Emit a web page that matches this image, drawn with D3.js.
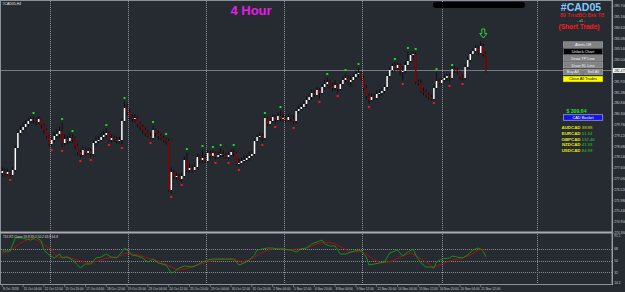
<!DOCTYPE html>
<html><head><meta charset="utf-8">
<script src="https://cdn.jsdelivr.net/npm/d3@7"></script>
<style>html,body{margin:0;padding:0;background:#262a31;overflow:hidden}svg{display:block}</style>
</head><body><svg id="c" width="625" height="292"></svg>
<script>
// ---------- DATA ----------
const symbolTitle = "#CAD05,H4";
const timeframeTitle = "4 Hour";
const opens = [277.35,277.45,277.30,277.40,277.25,277.50,278.60,279.35,279.50,279.65,
279.80,279.95,280.05,280.00,279.90,280.05,279.75,279.50,279.20,278.80,
279.00,279.20,279.30,279.45,278.85,279.05,278.95,279.10,279.05,278.70,
278.40,278.25,278.50,278.35,278.45,278.30,278.85,278.95,279.00,279.15,
279.25,279.35,279.00,279.10,279.05,278.95,279.00,279.95,280.60,280.40,
280.15,280.05,280.10,279.80,279.65,279.50,279.35,279.20,279.10,279.50,
279.35,279.20,279.10,279.00,278.95,276.50,277.40,277.15,277.20,277.05,
277.20,278.00,277.50,277.60,277.50,277.65,278.15,278.00,278.10,277.95,
278.35,278.20,278.35,278.15,278.25,278.30,278.25,278.15,278.25,278.40,
278.35,277.80,277.85,277.95,278.00,278.10,278.20,278.30,278.95,279.15,
279.20,279.10,280.10,279.80,279.95,280.15,280.00,280.20,280.05,280.10,
280.00,280.15,280.05,279.95,280.45,280.55,280.65,280.80,281.00,281.15,
281.35,281.25,281.50,281.35,281.65,281.80,281.90,281.70,281.60,281.75,
281.55,281.80,282.00,282.10,281.90,282.00,282.15,282.30,282.35,282.10,
281.60,281.20,281.00,281.15,281.10,281.30,281.35,281.45,281.65,282.20,
282.50,282.70,282.60,282.75,282.40,282.45,282.75,282.95,283.25,283.30,
281.90,281.85,281.45,281.40,281.25,281.15,281.05,281.60,281.95,281.85,
282.00,282.10,282.20,282.10,282.55,282.50,282.40,282.15,282.10,282.65,
283.00,283.30,283.45,283.60,283.35,283.70,283.30];
const closes = [277.45,277.30,277.40,277.25,277.50,278.60,279.35,279.50,279.65,279.80,
279.95,280.05,280.00,279.90,280.05,279.75,279.50,279.20,278.80,279.00,
279.20,279.30,279.45,278.85,279.05,278.95,279.10,279.05,278.70,278.40,
278.25,278.50,278.35,278.45,278.30,278.85,278.95,279.00,279.15,279.25,
279.35,279.00,279.10,279.05,278.95,279.00,279.95,280.60,280.40,280.15,
280.05,280.10,279.80,279.65,279.50,279.35,279.20,279.10,279.50,279.35,
279.20,279.10,279.00,278.95,276.50,277.40,277.15,277.20,277.05,277.20,
278.00,277.50,277.60,277.50,277.65,278.15,278.00,278.10,277.95,278.35,
278.20,278.35,278.15,278.25,278.30,278.25,278.15,278.25,278.40,278.35,
277.80,277.85,277.95,278.00,278.10,278.20,278.30,278.95,279.15,279.20,
279.10,280.10,279.80,279.95,280.15,280.00,280.20,280.05,280.10,280.00,
280.15,280.05,279.95,280.45,280.55,280.65,280.80,281.00,281.15,281.35,
281.25,281.50,281.35,281.65,281.80,281.90,281.70,281.60,281.75,281.55,
281.80,282.00,282.10,281.90,282.00,282.15,282.30,282.35,282.10,281.60,
281.20,281.00,281.15,281.10,281.30,281.35,281.45,281.65,282.20,282.50,
282.70,282.60,282.75,282.40,282.45,282.75,282.95,283.25,283.30,281.90,
281.85,281.45,281.40,281.25,281.15,281.05,281.60,281.95,281.85,282.00,
282.10,282.20,282.10,282.55,282.50,282.40,282.15,282.10,282.65,283.00,
283.30,283.45,283.60,283.35,283.70,283.30,282.475];
const highs = [277.60,277.55,277.55,277.45,277.65,278.70,279.50,279.70,279.85,279.95,
280.10,280.15,280.15,280.10,280.15,280.05,279.80,279.55,279.25,279.10,
279.35,279.50,279.65,279.85,279.25,279.20,279.30,279.25,279.15,278.80,
278.50,278.65,278.60,278.60,278.55,278.95,279.15,279.20,279.35,279.45,
279.55,279.40,279.25,279.20,279.15,279.15,280.05,280.90,280.80,280.50,
280.25,280.25,280.15,279.90,279.75,279.60,279.50,279.35,279.70,279.55,
279.45,279.30,279.20,279.10,279.05,277.60,277.50,277.35,277.30,277.35,
278.15,278.35,277.80,277.75,277.80,278.30,278.25,278.50,278.25,278.45,
278.45,278.45,278.40,278.40,278.55,278.45,278.35,278.40,278.50,278.55,
278.40,278.05,278.10,278.20,278.25,278.40,278.45,279.05,279.25,279.35,
279.30,280.15,280.15,280.05,280.25,280.20,280.35,280.45,280.30,280.20,
280.30,280.25,280.20,280.55,280.70,280.80,280.95,281.15,281.30,281.50,
281.45,281.65,281.60,281.80,282.00,282.10,282.00,281.85,281.95,281.80,
281.95,282.15,282.30,282.20,282.15,282.30,282.45,282.60,282.40,282.20,
281.70,281.30,281.30,281.30,281.45,281.50,281.60,281.75,282.30,282.60,
282.80,282.85,282.85,282.80,282.65,282.90,283.40,283.30,283.40,283.35,
282.00,282.00,281.60,281.50,281.35,281.25,281.70,282.35,282.05,282.10,
282.25,282.30,282.30,282.55,282.65,282.60,282.45,282.25,282.75,283.15,
283.40,283.55,283.70,283.70,283.90,283.80,283.40];
const lows = [277.20,277.20,277.25,277.20,277.25,277.45,278.55,279.25,279.45,279.55,
279.70,279.85,279.85,279.75,279.80,279.60,279.35,279.10,278.70,278.70,
278.90,279.10,279.15,278.65,278.75,278.80,278.85,278.90,278.55,278.25,
278.15,278.20,278.25,278.30,278.20,278.25,278.75,278.85,278.95,279.05,
279.10,278.95,278.90,278.95,278.85,278.85,278.80,279.90,280.25,280.00,
279.90,279.90,279.65,279.50,279.35,279.20,279.15,279.05,279.05,279.20,
279.05,279.00,278.90,278.80,276.45,276.35,277.05,277.05,277.00,276.95,
277.15,277.40,277.40,277.40,277.45,277.60,277.85,277.90,277.85,277.90,
278.10,278.15,278.05,278.10,278.15,278.15,278.10,278.05,278.20,278.20,
277.75,277.70,277.80,277.85,277.95,278.00,278.15,278.25,278.90,279.05,
278.95,279.05,279.70,279.75,279.90,279.85,279.95,279.95,279.95,279.90,
279.95,279.95,279.80,279.85,280.35,280.50,280.60,280.70,280.95,281.05,
281.15,281.20,281.10,281.30,281.55,281.70,281.60,281.45,281.50,281.40,
281.50,281.75,281.90,281.80,281.70,281.95,282.05,282.15,282.00,281.50,
281.05,280.85,280.95,281.00,281.05,281.20,281.25,281.35,281.55,282.15,
282.40,282.45,282.50,282.25,282.00,282.35,282.70,282.90,283.10,281.80,
281.75,281.35,281.25,281.15,281.05,281.00,281.05,281.55,281.75,281.80,
281.90,281.95,281.90,282.05,282.35,282.30,282.05,282.00,282.05,282.60,
282.95,283.25,283.40,283.30,283.35,283.20,282.40];
const fractalUpBars = [12,23,27,40,47,58,63,71,77,81,84,89,101,107,125,132,137,151,156,159,167,173];
const fractalDownBars = [3,19,23,30,34,41,46,57,65,69,82,87,91,100,105,112,122,129,141,154,166,172,177];
const sellArrowBar = 185;
const priceTicks = [285.70,285.16,284.62,284.08,283.54,283.00,282.46,281.92,281.38,280.84,280.30,279.76,279.22,278.68,278.14,277.60,277.06,276.52,275.98,275.44,274.90,274.36];
const timeLabels = ["8 Oct 2018","11 Oct 04:00","12 Oct 12:00","15 Oct 20:00","17 Oct 04:00","18 Oct 12:00","19 Oct 20:00","23 Oct 04:00","24 Oct 12:00","25 Oct 20:00","29 Oct 04:00","30 Oct 12:00","31 Oct 20:00","2 Nov 04:00","5 Nov 12:00","6 Nov 20:00","8 Nov 04:00","9 Nov 12:00","12 Nov 20:00","14 Nov 04:00","15 Nov 12:00","16 Nov 20:00","20 Nov 04:00","21 Nov 12:00"];
const timeLabelBars = [0,8,16,24,32,40,48,56,64,72,80,88,96,104,112,120,128,136,144,152,160,168,176,184];
const gridBars = [18.5,48.5,78.5,108.5,138.5,169,205.6];
const tdiTitle = "TDI-RT-Clone 59.8 39.7 50.2 63.8 64.8";
const tdiGreenBar = [0,3,5,7,11,13,15,16,18,20,22,23,25,27,29,30,32,34,36,38,40,42,44,46,47,48,50,52,54,56,58,60,63,65,66,68,70,73,75,77,79,81,84,87,89,91,93,95,97,98,100,102,104,106,108,111,113,115,117,119,122,123,124,126,128,130,132,134,137,138,140,141,143,145,147,149,151,152,154,156,158,159,161,163,165,166,167,169,172,173,175,177,179,181,183,184,185,186];
const tdiGreenVal = [65,65,85,85.4,81.8,86.5,80.3,66.5,58.8,54.2,60.3,54.2,55.7,51.1,43.4,38.8,44.9,44.9,54.2,55.7,60.3,55.7,54.2,63.4,69.5,66.5,58.8,57.2,54.2,48,52.6,46.5,43.4,31.1,32.6,38.8,41.8,40.3,43.4,48,51.1,52.6,52.6,52.6,52.6,43.4,46.5,51.1,58.8,66.5,68,69.5,69.5,68,68,66.5,63.4,68,69.5,75.7,80.3,81.8,75.7,72.6,72.6,60.3,60.3,63.4,66.5,64.9,55.7,43.4,44.9,46.5,48,61.8,64.9,66.5,57.2,63.4,68,58.8,46.5,40.3,40.3,38.8,48,52.6,54.2,57.2,55.7,54.2,58.8,66.5,69.5,68,64,56];
const tdiRedBar = [0,3,7,11,14,16,19,21,25,29,33,37,40,44,48,52,56,61,65,68,72,76,80,84,89,92,95,99,102,106,110,113,117,122,124,127,131,134,138,140,143,146,150,153,157,160,163,166,170,173,177,180,183,185,186];
const tdiRedVal = [61.8,64.9,77.2,84.9,80.3,74.2,66.5,55.7,55.7,51.1,46.5,49.5,54.2,55.7,61.8,58.8,54.2,48,40.3,35.7,38.8,44.9,49.5,52.6,52.6,48,51.1,60.3,66.5,69.5,66.5,68,69.5,77.2,78.8,77.2,69.5,63.4,64.9,60.3,51.1,46.5,49.5,55.7,61.8,55.7,48,40.3,46.5,51.1,54.2,58.8,66.5,68,64.9];
const tdiLevels = [68,50,32];
const tdiLabels = ["91.1","68","50","32","14.2"];
const tdiLabelVals = [91.1,68,50,32,14.2];
const panelSymbol = "#CAD05";
const panelStrategy = "89 TrndBO Bsk T8";
const panelSub = "- s1 -";
const panelTrade = "(Short Trade)";
const buttonRows = [["Alerts Off"],["Unlock Chart"],["Draw TP Line"],["Draw SL Line"],["Buy All","Sell All"],["Close All Trades"]];
const profitText = "$  309.64";
const basketLabel = "CAD Basket";
const basketPairs = ["AUDCAD","EURCAD","GBPCAD","NZDCAD","USDCAD"];
const basketValues = [38.88,51.34,137.40,41.33,84.99];

// ---------- DRAW ----------
const W = 625, H = 292, FONT = "'Liberation Sans', Arial, sans-serif";
const svg = d3.select('#c').style('font-family', FONT);
svg.append('rect').attr('width', W).attr('height', H).attr('fill', '#262a31');

const plotR = 612, mainBottom = 231.5;
const x = d3.scaleLinear().domain([0, 186]).range([2.3, 485.9]);
const y = d3.scaleLinear().domain([286, 274.4]).range([0, 232]);
const yi = d3.scaleLinear().domain([14.2, 91.1]).range([284, 234]);

svg.append('clipPath').attr('id', 'cm').append('rect').attr('x', 1).attr('y', 1).attr('width', plotR - 1).attr('height', mainBottom - 1);
svg.append('clipPath').attr('id', 'ci').append('rect').attr('x', 1).attr('y', 234).attr('width', plotR - 1).attr('height', 50);

// vertical dotted grid
const grid = svg.append('g').attr('stroke', '#8d929b').attr('stroke-width', 1).attr('stroke-dasharray', '1,1');
gridBars.forEach(b => {
  const gx = Math.round(x(b)) + 0.5;
  grid.append('line').attr('x1', gx).attr('x2', gx).attr('y1', 1).attr('y2', mainBottom);
  grid.append('line').attr('x1', gx).attr('x2', gx).attr('y1', 234).attr('y2', 284);
});

// bid line
const lastClose = closes[closes.length - 1];
svg.append('line').attr('x1', 1).attr('x2', plotR).attr('y1', y(lastClose)).attr('y2', y(lastClose))
  .attr('stroke', '#80858e').attr('stroke-width', 0.9);

// candles
const main = svg.append('g').attr('clip-path', 'url(#cm)');
const idx = d3.range(closes.length);
main.selectAll('.wick').data(idx).join('rect')
  .attr('x', i => x(i) - 0.4).attr('width', 0.8)
  .attr('y', i => y(highs[i]) - 0.5).attr('height', i => Math.max(0.8, y(lows[i]) - y(highs[i]) + 1))
  .attr('fill', '#080808');
main.selectAll('.body').data(idx).join('rect')
  .attr('x', i => x(i) - 0.75).attr('width', 1.5)
  .attr('y', i => y(Math.max(opens[i], closes[i])))
  .attr('height', i => Math.max(0.7, Math.abs(y(opens[i]) - y(closes[i]))))
  .attr('fill', i => closes[i] >= opens[i] ? '#ffffff' : '#8b0000');

// fractals
main.selectAll('.fu').data(fractalUpBars).join('rect')
  .attr('x', i => x(i) - 1).attr('y', i => y(highs[i]) - 5).attr('width', 2).attr('height', 2).attr('fill', '#12e012');
main.selectAll('.fd').data(fractalDownBars).join('rect')
  .attr('x', i => x(i) - 1).attr('y', i => y(lows[i]) + 3).attr('width', 2).attr('height', 2).attr('fill', '#ff1414');

// sell arrow
{
  const cx = x(sellArrowBar), ty = y(highs[sellArrowBar]) - 6;
  svg.append('path')
    .attr('d', `M${cx-1.5},${ty-9} L${cx+1.5},${ty-9} L${cx+1.5},${ty-4.5} L${cx+3.6},${ty-4.5} L${cx},${ty} L${cx-3.6},${ty-4.5} L${cx-1.5},${ty-4.5} Z`)
    .attr('fill', 'none').attr('stroke', '#2de02d').attr('stroke-width', 0.9);
}

// frame
svg.append('rect').attr('x', 0.5).attr('y', 0.5).attr('width', plotR - 0.5).attr('height', 284).attr('fill', 'none').attr('stroke', '#8c9098').attr('stroke-width', 1);
svg.append('rect').attr('x', 0).attr('y', 231.5).attr('width', plotR).attr('height', 2).attr('fill', '#a8abb0');
svg.append('line').attr('x1', plotR + 0.5).attr('x2', plotR + 0.5).attr('y1', 0).attr('y2', 285).attr('stroke', '#9a9ea5');

// price axis
const pax = svg.append('g').attr('font-size', 3.3).attr('fill', '#c9ccd1');
priceTicks.forEach(p => {
  const ty = y(p);
  if (Math.abs(ty - y(lastClose)) < 4) return;
  pax.append('line').attr('x1', plotR).attr('x2', plotR + 1.8).attr('y1', ty).attr('y2', ty).attr('stroke', '#9a9ea5').attr('stroke-width', 0.6);
  pax.append('text').attr('x', plotR + 2.2).attr('y', ty + 1.2).text(p.toFixed(3));
});
svg.append('rect').attr('x', plotR + 1).attr('y', y(lastClose) - 2.4).attr('width', 13).attr('height', 4.8).attr('fill', '#ffffff');
svg.append('text').attr('x', plotR + 2.2).attr('y', y(lastClose) + 1.2).attr('font-size', 3.3).attr('fill', '#000').text(lastClose.toFixed(3));

// indicator panel
const ind = svg.append('g');
tdiLevels.forEach(v => {
  ind.append('line').attr('x1', 1).attr('x2', plotR).attr('y1', Math.round(yi(v)) + 0.5).attr('y2', Math.round(yi(v)) + 0.5)
    .attr('stroke', '#858a93').attr('stroke-dasharray', '1,1');
});
const indLines = svg.append('g').attr('clip-path', 'url(#ci)');
const lineG = d3.line().x(d => x(d[0])).y(d => yi(d[1]));
indLines.append('path').datum(tdiRedBar.map((b, k) => [b, tdiRedVal[k]])).attr('d', lineG)
  .attr('fill', 'none').attr('stroke', '#b80c0c').attr('stroke-width', 0.9);
indLines.append('path').datum(tdiGreenBar.map((b, k) => [b, tdiGreenVal[k]])).attr('d', lineG)
  .attr('fill', 'none').attr('stroke', '#139a13').attr('stroke-width', 0.9);
svg.append('text').attr('x', 3).attr('y', 238).attr('font-size', 3.2).attr('fill', '#d8d8d8').text(tdiTitle);
tdiLabels.forEach((t, k) => {
  let ty = yi(tdiLabelVals[k]);
  ty = Math.max(236, Math.min(283, ty));
  svg.append('text').attr('x', plotR + 2.2).attr('y', ty + 1.2).attr('font-size', 3.3).attr('fill', '#c9ccd1').text(t);
});

// time axis
const tax = svg.append('g').attr('font-size', 3.2).attr('fill', '#c9ccd1');
timeLabels.forEach((t, k) => {
  const tx = x(timeLabelBars[k]);
  tax.append('line').attr('x1', tx).attr('x2', tx).attr('y1', 284.5).attr('y2', 287).attr('stroke', '#9a9ea5').attr('stroke-width', 0.6);
  tax.append('text').attr('x', tx + 0.6).attr('y', 289.5).text(t);
});

// titles
svg.append('text').attr('x', 2.5).attr('y', 5.2).attr('font-size', 3.5).attr('fill', '#e8e8e8').text(symbolTitle);
svg.append('text').attr('x', 251).attr('y', 14.5).attr('text-anchor', 'middle').attr('font-size', 13).attr('font-weight', 'bold').attr('fill', '#e61ee6').text(timeframeTitle);
svg.append('rect').attr('x', 433).attr('y', 2).attr('width', 92).attr('height', 6).attr('rx', 3).attr('fill', '#000');

// right panel
svg.append('text').attr('x', 581).attr('y', 11.2).attr('text-anchor', 'middle').attr('font-size', 10.5).attr('font-weight', 'bold').attr('fill', '#7fc9ff').text(panelSymbol);
svg.append('text').attr('x', 582).attr('y', 17.3).attr('text-anchor', 'middle').attr('font-size', 5.4).attr('fill', '#ff1a1a').text(panelStrategy);
svg.append('text').attr('x', 581).attr('y', 21.5).attr('text-anchor', 'middle').attr('font-size', 3.4).attr('fill', '#e0e060').text(panelSub);
svg.append('text').attr('x', 579).attr('y', 29).attr('text-anchor', 'middle').attr('font-size', 6.6).attr('font-weight', 'bold').attr('fill', '#ff1a1a').text(panelTrade);

const btnX = 563, btnW = 40, btnH = 5.6, rowY = [41.8, 48.8, 55.6, 62.4, 69.2, 76.2];
buttonRows.forEach((row, r) => {
  const w = row.length === 1 ? btnW : (btnW - 1) / 2;
  row.forEach((label, c) => {
    const bx = btnX + c * (w + 1);
    const black = label === 'Unlock Chart', yellow = label === 'Close All Trades';
    svg.append('rect').attr('x', bx + 0.25).attr('y', rowY[r]).attr('width', w - 0.5).attr('height', btnH)
      .attr('fill', black ? '#000' : yellow ? '#ffff00' : '#828282')
      .attr('stroke', black ? '#9a9a9a' : yellow ? '#d8d800' : '#b4b4b4').attr('stroke-width', 0.5);
    svg.append('text').attr('x', bx + w / 2).attr('y', rowY[r] + 4.1).attr('text-anchor', 'middle')
      .attr('font-size', 3.9).attr('fill', yellow ? '#000' : '#f2f2f2').text(label);
  });
});

svg.append('text').attr('x', 576.5).attr('y', 112.5).attr('text-anchor', 'middle').attr('font-size', 5.2).attr('font-weight', 'bold').attr('fill', '#22e022').text(profitText);
svg.append('rect').attr('x', 563.3).attr('y', 114.8).attr('width', 39.5).attr('height', 5.4).attr('fill', '#1414e6').attr('stroke', '#e0e0ff').attr('stroke-width', 0.5);
svg.append('text').attr('x', 583).attr('y', 118.9).attr('text-anchor', 'middle').attr('font-size', 3.9).attr('fill', '#fff').text(basketLabel);
basketPairs.forEach((p, k) => {
  const ry = 128.6 + k * 5.95;
  svg.append('text').attr('x', 580.5).attr('y', ry).attr('text-anchor', 'end').attr('font-size', 4.4).attr('font-weight', 'bold').attr('fill', '#e8e800').text(p);
  svg.append('text').attr('x', 581.8).attr('y', ry).attr('font-size', 4.2).attr('fill', k === 0 ? '#d8e000' : '#22d822').text(basketValues[k].toFixed(2));
});
</script>
</body></html>
